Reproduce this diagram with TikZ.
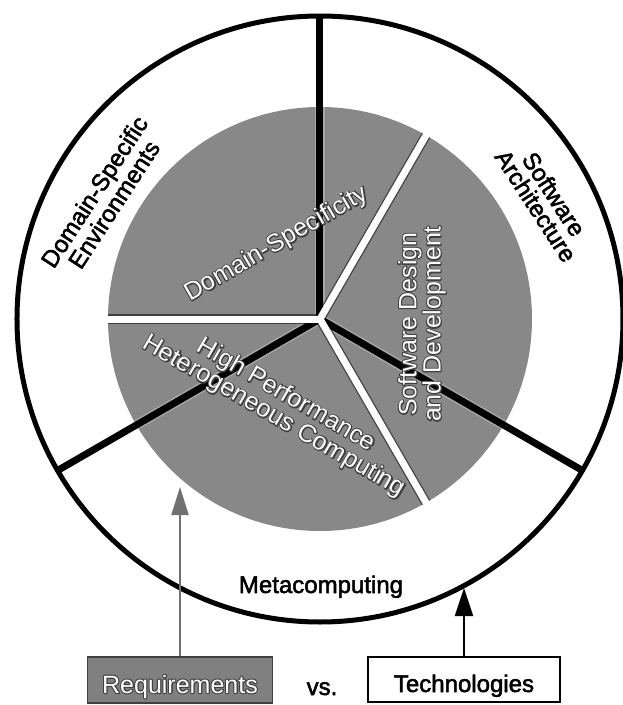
\documentclass[tikz,border=0pt]{standalone}
\usepackage{fontspec}
\setmainfont{Liberation Sans}
\usetikzlibrary{arrows.meta}

\definecolor{disk}{HTML}{888888}
\definecolor{rim}{HTML}{404040}
\definecolor{halo}{HTML}{A6A6A6}
\definecolor{reqfill}{HTML}{808080}
\definecolor{reqline}{HTML}{707070}

% thick fill-and-stroke lettering, used as the dark edge under white text
\newcommand{\strokeon}{\special{pdf:literal direct 2 Tr 1 j 2.2 w 0.25 0.25 0.25 RG}}
\newcommand{\strokeoff}{\special{pdf:literal direct 0 Tr}}
% slightly heavier black lettering
\newcommand{\heavy}[1]{\special{pdf:literal direct 2 Tr 1 j 0.5 w 0 0 0 RG}#1\special{pdf:literal direct 0 Tr}}
% white text on a dark edge: name, position, options, text
\newcommand{\glowtext}[4]{%
  \node[#3, text=rim] (#1-edge) at #2 {\strokeon #4\strokeoff};
  \node[#3, text=white] (#1) at #2 {#4};
}

\tikzset{
  ring/.style={line width=5pt, draw=black},
  spoke/.style={line width=7pt, draw=black},
  spokehalo/.style={line width=10pt, draw=halo},
  gap/.style={line width=7pt, draw=white},
  gapedge/.style={line width=9.5pt, draw=rim},
  intext/.style={inner sep=0pt, align=center, font=\fontsize{25}{23}\selectfont},
  outtext/.style={inner sep=0pt, align=center, font=\fontsize{24}{21.5}\selectfont},
  reqbox/.style={draw=rim, line width=1.5pt, fill=reqfill, minimum width=185pt, minimum height=46pt, inner sep=0pt},
  techbox/.style={draw=black, line width=2pt, fill=white, minimum width=192pt, minimum height=45pt, inner sep=0pt},
  reqarrow/.style={draw=reqline, line width=2pt, -{Triangle[length=28pt,width=17pt]}},
  techarrow/.style={draw=black, line width=2pt, -{Triangle[length=28pt,width=18pt]}}
}

\begin{document}
\begin{tikzpicture}[x=1pt,y=1pt]
\useasboundingbox (-320,-386) rectangle (303,319);
\fill[white] (-320,-386) rectangle (303,319);

% inner disk with its three sectors
\fill[disk] (0,0) circle (212);
\begin{scope}
  \clip (0,0) circle (212);
  \foreach \a in {90,210,330} \draw[spokehalo] (0,0) -- (\a:230);
  \foreach \a in {60,180,300} \draw[gapedge] (0,0) -- (\a:230);
\end{scope}

% dividers of the outer ring
\foreach \a in {90,210,330} \draw[spoke] (0,0) -- (\a:303);
% white gaps between the sectors
\foreach \a in {60,180,300} \draw[gap] (0,0) -- (\a:214);

% outer ring
\draw[ring] (0,0) circle (303);

% sector labels
\glowtext{dspec}{(120:80)}{intext, anchor=base, rotate=30}{Domain-Specificity}
\glowtext{swdd}{(102,-5)}{intext, rotate=90}{Software Design\\and Development}
\glowtext{hpc}{(-40,-87)}{intext, rotate=-30}{High Performance\\Heterogeneous Computing}

% ring labels
\node[outtext, rotate=57] (dse) at (-216,121) {\heavy{Domain-Specific}\\\heavy{Environments}};
\node[outtext, rotate=-57] (swa) at (225,119) {\heavy{Software}\\\heavy{Architecture}};
\node[outtext, anchor=base] (meta) at (1,-274) {\heavy{Metacomputing}};

% bottom boxes
\node[reqbox] (req) at (-140,-361) {};
\glowtext{reqt}{(-140,-374)}{intext, anchor=base}{Requirements}
\node[outtext, anchor=base] (vs) at (2,-376) {\heavy{vs.}};
\node[techbox] (tech) at (144,-360.5) {};
\node[outtext, anchor=base] (techt) at (144,-373) {\heavy{Technologies}};

% arrows
\coordinate (reqtip) at (-140,-168);
\coordinate (techtip) at (144,-269);
\draw[reqarrow] (req.north) -- (reqtip);
\draw[techarrow] (tech.north) -- (techtip);
\end{tikzpicture}
\end{document}
